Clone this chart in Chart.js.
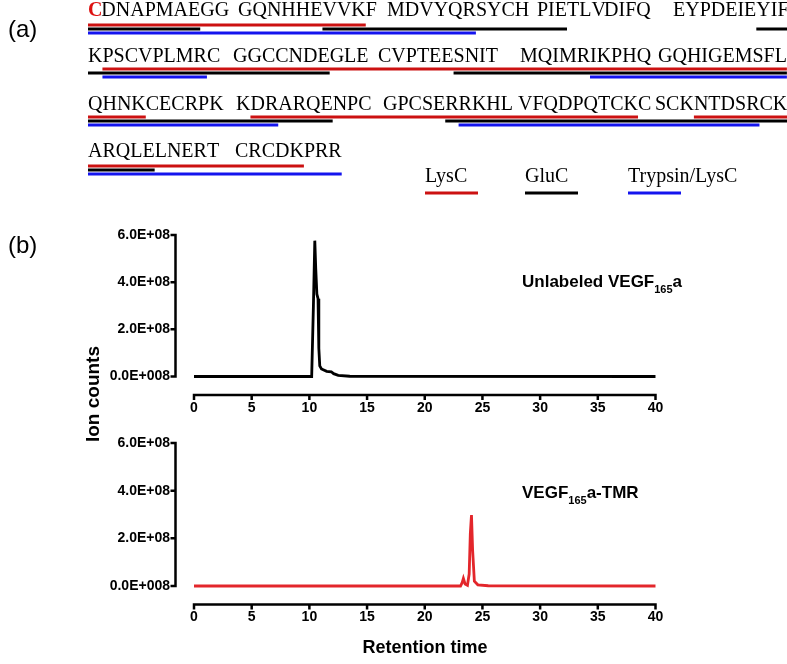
<!DOCTYPE html>
<html>
<head>
<meta charset="utf-8">
<script src="https://cdn.jsdelivr.net/npm/chart.js@4.4.1/dist/chart.umd.min.js"></script>
<style>
  html, body { margin: 0; padding: 0; background: #fff; }
  #page { position: relative; width: 787px; height: 664px; overflow: hidden; font-family: "Liberation Sans", Arial, sans-serif; color: #000; }
  #page canvas { position: absolute; left: 0; top: 0; }
  .lbl { position: absolute; white-space: nowrap; }
  .panel { font-size: 24px; line-height: 24px; }
  .bold { font-weight: bold; }
  sub { font-size: 11px; vertical-align: -6px; line-height: 0; }
</style>
</head>
<body>
<div id="page">
  <canvas id="seqChart" width="787" height="664"></canvas>
  <canvas id="unlabeledChart" width="787" height="664"></canvas>
  <canvas id="tmrChart" width="787" height="664"></canvas>
  <div class="lbl panel" style="left:8px;top:17px">(a)</div>
  <div class="lbl panel" style="left:8px;top:233px">(b)</div>
  <div class="lbl bold" style="left:522px;top:273px;font-size:17px;line-height:17px">Unlabeled VEGF<sub>165</sub>a</div>
  <div class="lbl bold" style="left:522px;top:484px;font-size:17px;line-height:17px">VEGF<sub>165</sub>a-TMR</div>
  <div class="lbl bold" style="left:33px;top:384px;width:120px;height:20px;line-height:20px;font-size:19px;text-align:center;transform:rotate(-90deg)">Ion counts</div>
  <div class="lbl bold" style="left:325px;top:638px;width:200px;text-align:center;font-size:18px;line-height:18px">Retention time</div>
</div>
<script>
// VEGF165a sequence, in blocks of ten as printed
const seqLines = [
  ["CDNAPMAEGG", "GQNHHEVVKF", "MDVYQRSYCH", "PIETLVDIFQ", "EYPDEIEYIF"],
  ["KPSCVPLMRC", "GGCCNDEGLE", "CVPTEESNIT", "MQIMRIKPHQ", "GQHIGEMSFL"],
  ["QHNKCECRPK", "KDRARQENPC", "GPCSERRKHL", "VFQDPQTCKC", "SCKNTDSRCK"],
  ["ARQLELNERT", "CRCDKPRR"]
];
// covered residues (first, last) per digest
const lysC = [[1, 19], [52, 104], [112, 139], [144, 165]];
const gluC = [[1, 8], [17, 33], [48, 67], [77, 117], [126, 155]];
const trypsinLysC = [[1, 26], [52, 59], [86, 113], [127, 148], [151, 168]];
const enzymeNames = ["LysC", "GluC", "Trypsin/LysC"];

// chromatograms
const rtUnlabeled = [0, 10.2, 10.35, 10.47, 10.55, 10.65, 10.75, 10.82, 10.9, 11.05, 11.5, 11.9, 12.1, 12.5, 13.5, 40];
const countsUnlabeled = [0, 0, 3.0e8, 5.76e8, 4.6e8, 3.5e8, 3.3e8, 1.2e8, 0.45e8, 0.32e8, 0.22e8, 0.2e8, 0.12e8, 0.05e8, 0.01e8, 0];
const rtTmr = [0, 23.1, 23.25, 23.35, 23.5, 23.7, 23.85, 23.95, 24.05, 24.15, 24.3, 24.6, 25.5, 40];
const countsTmr = [0, 0, 0.15e8, 0.32e8, 0.08e8, 0.03e8, 0.5e8, 2.2e8, 2.98e8, 1.5e8, 0.2e8, 0.05e8, 0.01e8, 0];

const countTicks = [0, 2e8, 4e8, 6e8];
const countTickLabels = ["0.0E+008", "2.0E+08", "4.0E+08", "6.0E+08"];
const rtTicks = [0, 5, 10, 15, 20, 25, 30, 35, 40];

// panel (a) layout
const SEQ_FONT = '20px "Liberation Serif", "Times New Roman", serif';
const enzymeColors = ["#cc1111", "#000000", "#1414ee"];
const blockX = [[88, 238, 387, 537, 673], [88, 233, 378, 520, 658], [88, 236, 383, 518, 655], [88, 235]];
const lineBase = [16, 62, 110, 157];
const barRowY = [[25, 29, 33], [69, 73, 77], [117, 121, 125], [166, 170, 174]];
const legendX = [425, 525, 628];

const measure = document.createElement("canvas").getContext("2d");
measure.font = SEQ_FONT;
const residues = [];
seqLines.forEach((blocks, li) => {
  blocks.forEach((block, bi) => {
    for (let c = 0; c < block.length; c++) {
      residues.push({
        aa: block[c],
        line: li,
        left: blockX[li][bi] + measure.measureText(block.slice(0, c)).width,
        right: blockX[li][bi] + measure.measureText(block.slice(0, c + 1)).width
      });
    }
  });
});

// turn residue ranges into line segments, split where the sequence wraps
function coverage(segments, row) {
  const pts = [];
  const flush = run => {
    const y = barRowY[run.line][row];
    pts.push({ x: run.left, y }, { x: run.right, y }, { x: run.right, y: null });
  };
  segments.forEach(([s, e]) => {
    let run = null;
    for (let k = s; k <= e; k++) {
      const r = residues[k - 1];
      if (!run || run.line !== r.line) {
        if (run) flush(run);
        run = { line: r.line, left: r.left, right: r.right };
      } else {
        run.right = r.right;
      }
    }
    flush(run);
  });
  return pts;
}

const sequenceText = {
  id: "sequenceText",
  afterDraw(chart) {
    const ctx = chart.ctx;
    ctx.save();
    ctx.textBaseline = "alphabetic";
    residues.forEach((r, i) => {
      ctx.font = i === 0 ? 'bold ' + SEQ_FONT : SEQ_FONT;
      ctx.fillStyle = i === 0 ? "#dd1111" : "#000";
      ctx.fillText(r.aa, r.left, lineBase[r.line]);
    });
    ctx.font = SEQ_FONT;
    ctx.fillStyle = "#000";
    enzymeNames.forEach((name, i) => {
      ctx.fillText(name, legendX[i], 182);
      ctx.strokeStyle = enzymeColors[i];
      ctx.lineWidth = 3;
      ctx.beginPath();
      ctx.moveTo(legendX[i], 193);
      ctx.lineTo(legendX[i] + 53, 193);
      ctx.stroke();
    });
    ctx.restore();
  }
};

new Chart(document.getElementById("seqChart"), {
  type: "line",
  data: {
    datasets: [lysC, gluC, trypsinLysC].map((segs, i) => ({
      label: enzymeNames[i],
      data: coverage(segs, i),
      borderColor: enzymeColors[i],
      borderWidth: 3,
      borderCapStyle: "butt",
      pointRadius: 0,
      spanGaps: false,
      tension: 0
    }))
  },
  options: {
    responsive: false,
    animation: false,
    events: [],
    layout: { padding: 0 },
    plugins: { legend: { display: false }, tooltip: { enabled: false } },
    scales: {
      x: { type: "linear", display: false, min: 0, max: 787 },
      y: { type: "linear", display: false, min: 0, max: 664, reverse: true }
    }
  },
  plugins: [sequenceText]
});

// prism-style axes, pulled away from the plot area
const detachedAxes = {
  id: "detachedAxes",
  afterDraw(chart) {
    const { ctx, scales: { x, y } } = chart;
    const gap = 18.5, tick = 5;
    const ax = x.getPixelForValue(0) - gap;
    const ay = y.getPixelForValue(0) + gap;
    ctx.save();
    ctx.strokeStyle = "#000";
    ctx.lineWidth = 2.5;
    ctx.beginPath();
    ctx.moveTo(ax, y.getPixelForValue(6e8) - 1.25);
    ctx.lineTo(ax, y.getPixelForValue(0) + 1.25);
    countTicks.forEach(v => {
      const p = y.getPixelForValue(v);
      ctx.moveTo(ax - tick, p);
      ctx.lineTo(ax, p);
    });
    ctx.moveTo(x.getPixelForValue(0) - 1.25, ay);
    ctx.lineTo(x.getPixelForValue(40) + 1.25, ay);
    rtTicks.forEach(v => {
      const p = x.getPixelForValue(v);
      ctx.moveTo(p, ay);
      ctx.lineTo(p, ay + tick);
    });
    ctx.stroke();
    ctx.restore();
  }
};

const tickFont = { family: '"Liberation Sans", Arial, sans-serif', size: 14, weight: "bold" };

function chromatogram(id, rt, counts, color, top, bottom) {
  return new Chart(document.getElementById(id), {
    type: "line",
    data: {
      datasets: [{
        data: rt.map((t, i) => ({ x: t, y: counts[i] })),
        borderColor: color,
        borderWidth: 2.8,
        pointRadius: 0,
        tension: 0,
        clip: false
      }]
    },
    options: {
      responsive: false,
      animation: false,
      events: [],
      layout: { padding: { left: 0, top: top, right: 131.5, bottom: 664 - bottom - 60 } },
      plugins: { legend: { display: false }, tooltip: { enabled: false } },
      scales: {
        x: {
          type: "linear", min: 0, max: 40,
          grid: { display: false, drawTicks: false },
          border: { display: false },
          ticks: { stepSize: 5, padding: 23, color: "#000", font: tickFont, maxRotation: 0 },
          afterFit: s => { s.height = 60; }
        },
        y: {
          type: "linear", min: 0, max: 6e8,
          grid: { display: false, drawTicks: false },
          border: { display: false },
          ticks: {
            stepSize: 2e8, padding: 24, color: "#000", font: tickFont,
            callback: v => countTickLabels[countTicks.indexOf(v)]
          },
          afterFit: s => { s.width = 194; }
        }
      }
    },
    plugins: [detachedAxes]
  });
}

chromatogram("unlabeledChart", rtUnlabeled, countsUnlabeled, "#000000", 235, 376.5);
chromatogram("tmrChart", rtTmr, countsTmr, "#e3262b", 443, 586);
</script>
</body>
</html>
